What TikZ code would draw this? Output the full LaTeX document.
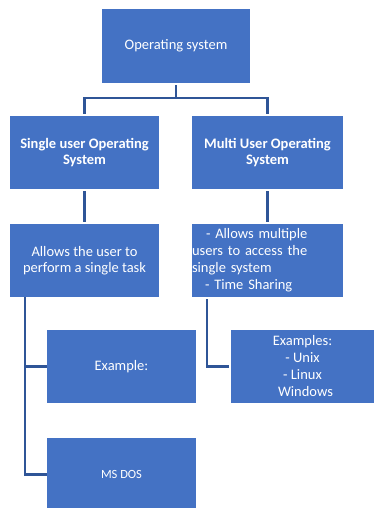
\documentclass[tikz,border=0pt]{standalone}
\usepackage{fontspec}
\setmainfont{Carlito}
\definecolor{boxblue}{HTML}{4472C4}
\definecolor{linkblue}{HTML}{2F5597}

\begin{document}
\begin{tikzpicture}[
x=1pt, y=-1pt,
osbox/.style={
rectangle,
fill=boxblue,
text=white,
inner sep=0 pt,
minimum width=149pt,
minimum height=73pt,
align=center,
font=\fontsize{14.5}{16.5}\selectfont,
},
link/.style={
draw=linkblue,
line width=2.6pt,
shorten <=2pt,
shorten >=1.5pt,
}
]
\useasboundingbox (0,0) rectangle (374,508);

% top node
\node [osbox, minimum width=148pt, minimum height=74pt] at (176,46) (os)
{Operating system};

% second level
\node [osbox, font=\bfseries\fontsize{14.5}{16.5}\selectfont] at (84.5,152.5) (single)
{Single user Operating\\System};
\node [osbox, minimum width=151pt, font=\bfseries\fontsize{14.5}{16.5}\selectfont] at (267.5,152.5) (multi)
{Multi User Operating\\System};

% descriptions
\node [osbox] at (84.5,260.5) (allows)
{Allows the user to\\perform a single task};
\node [osbox, minimum width=151pt, text width=151pt, align=left,
font=\fontsize{14.5}{17}\selectfont] at (267.5,260.5) (multidesc)
{\hspace*{14pt}- Allows multiple\\users to access the\\single system\\\hspace*{13pt}- Time Sharing};

% examples
\node [osbox] at (121.5,366.5) (example) {Example:};
\node [osbox] at (121.5,474.5) (msdos) {\fontsize{12.5}{14}\selectfont MS DOS};
\node [osbox, minimum width=143pt, font=\fontsize{14.5}{17}\selectfont] at (302.5,366.5) (examples)
{Examples:\\- Unix\\- Linux\\\hspace*{6pt}Windows};

% links
\draw [link] (os.south) -- ++(0,15) coordinate(bus) -| (single.north);
\draw [link, shorten <=0pt] (bus) -| (multi.north);
\draw [link] (single) -- (allows);
\draw [link] (multi) -- (multidesc);
\draw [link]
([xshift=15pt]allows.south west) |- (example.west)
([xshift=15pt]allows.south west) |- (msdos.west)
([xshift=15pt]multidesc.south west) |- (examples.west)
;

\end{tikzpicture}
\end{document}
